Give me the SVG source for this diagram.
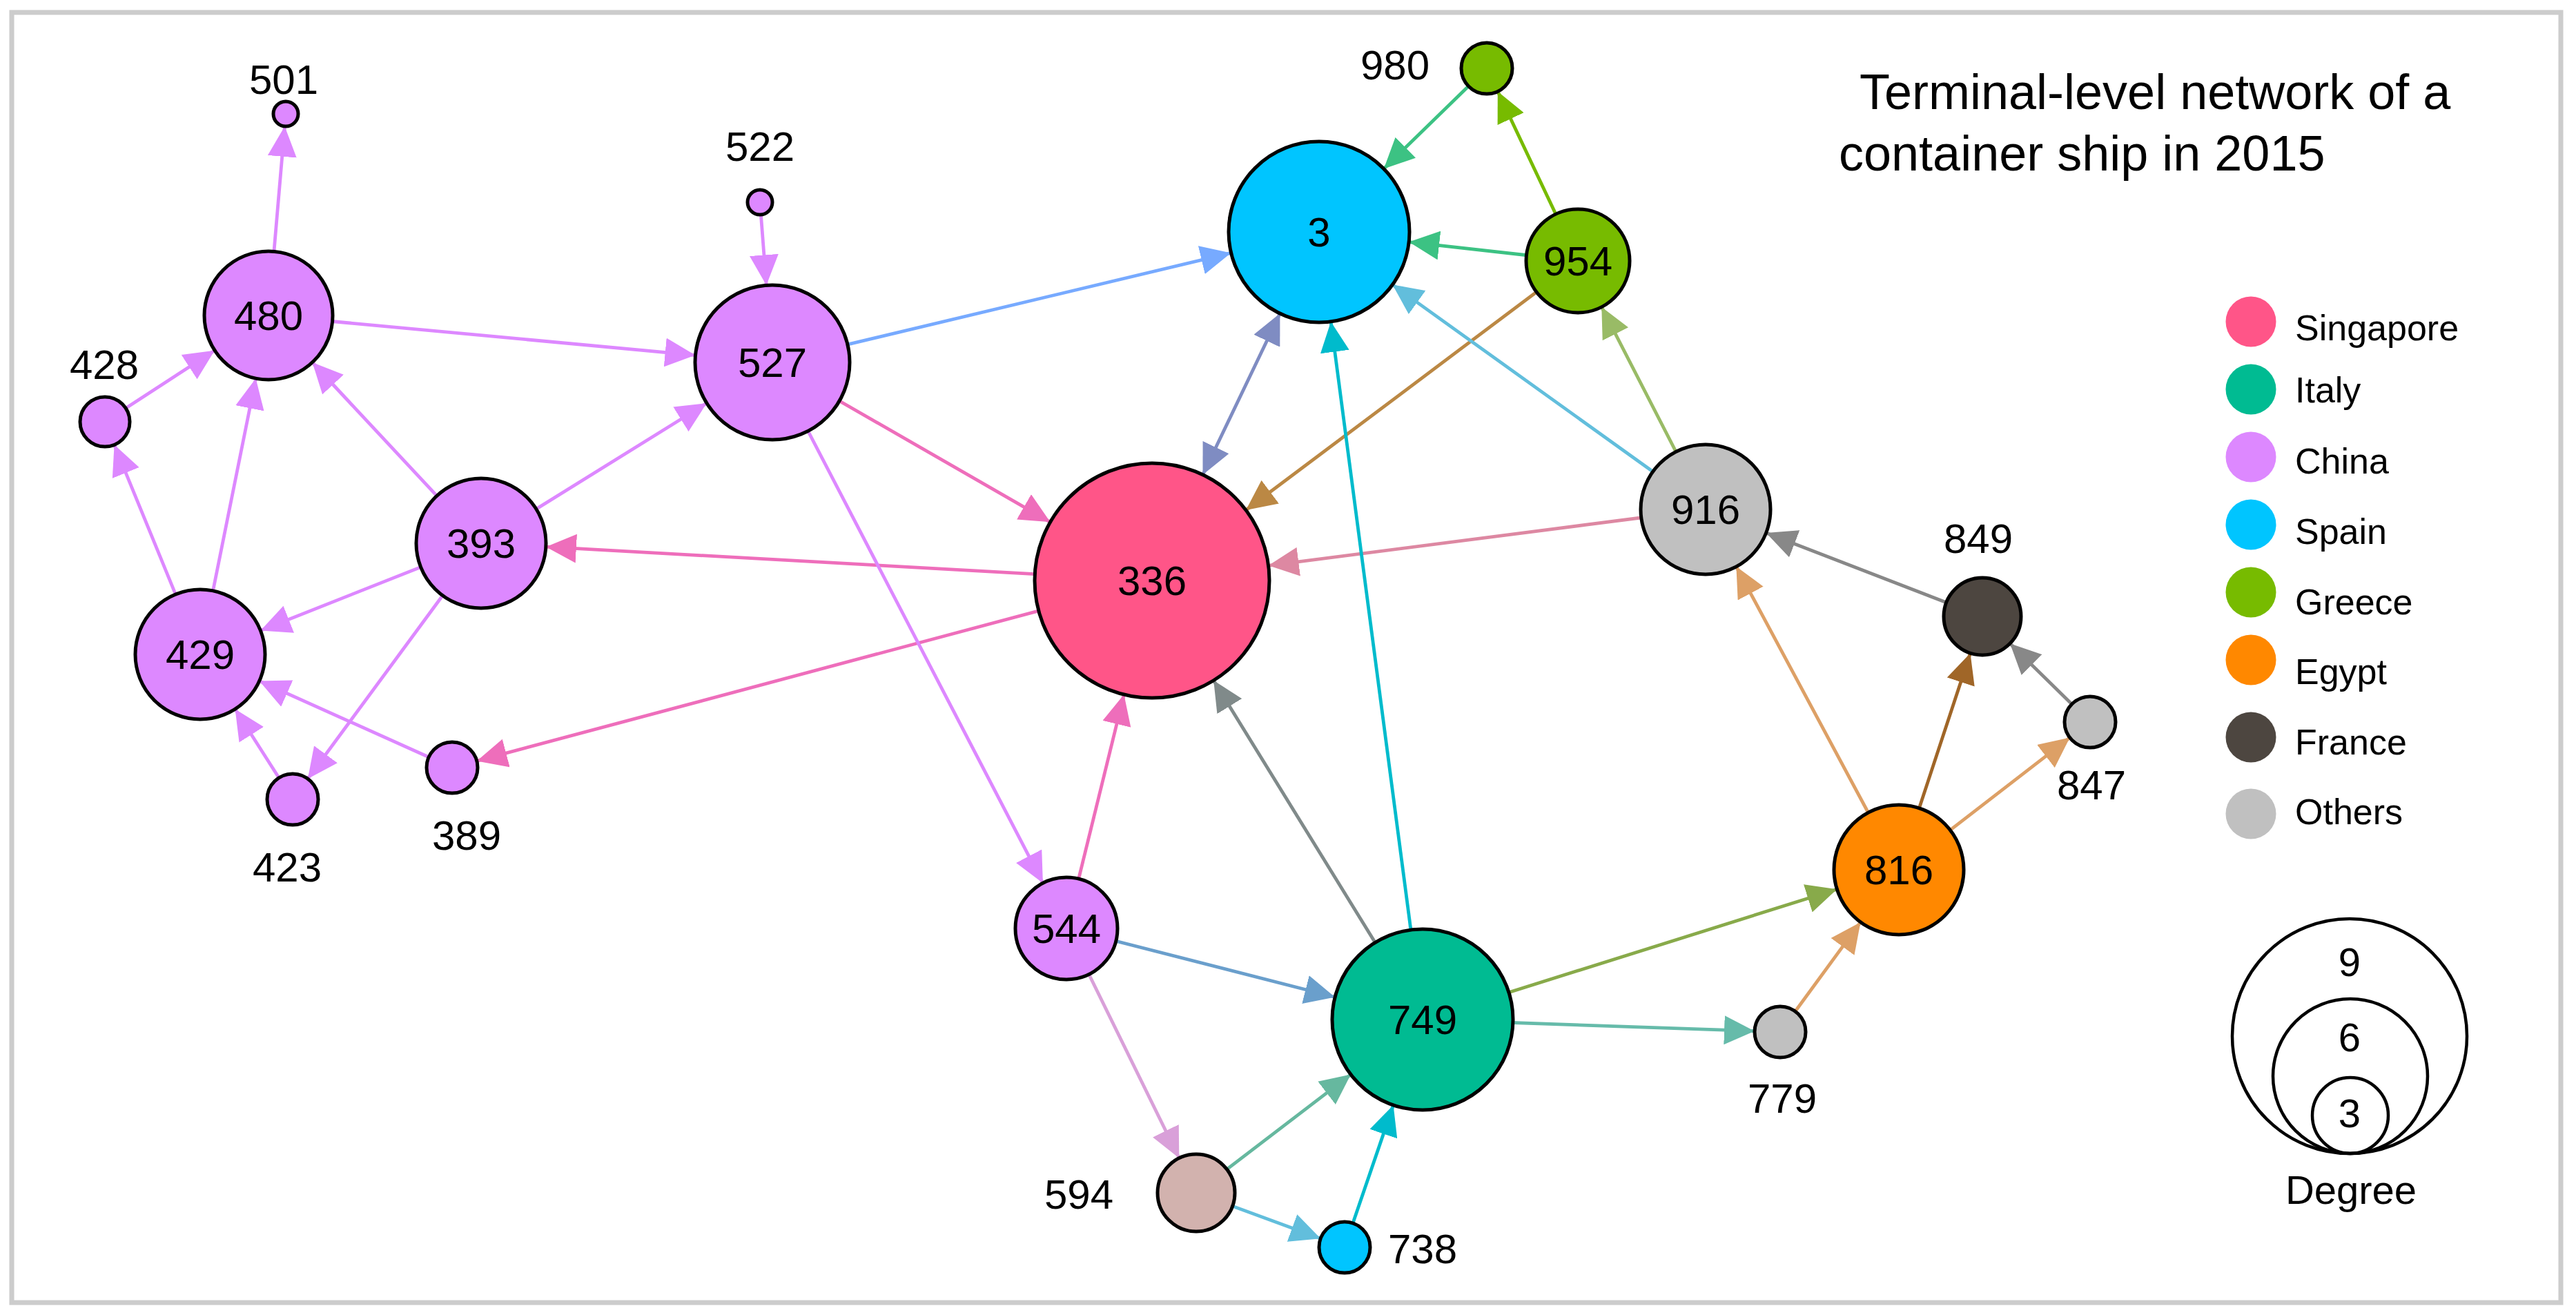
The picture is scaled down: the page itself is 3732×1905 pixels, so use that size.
<svg xmlns="http://www.w3.org/2000/svg" width="3732" height="1905" viewBox="0 0 3732 1905">
<style>
text{font-family:"Liberation Sans",Arial,Helvetica,sans-serif;fill:#000}
.lbl{font-size:60px;text-anchor:middle}
.leg{font-size:52px}
.title{font-size:72px}
.deg{font-size:58px;text-anchor:middle}
.n{stroke:#000;stroke-width:5}
.ring{fill:none;stroke:#000;stroke-width:4.5}
.e{fill:none;stroke-width:4.8}
.cn{fill:#DD88FF}.sg{fill:#FF5588}.it{fill:#00BB92}.sp{fill:#00C5FF}.gr{fill:#77BB00}.eg{fill:#FF8800}.fr{fill:#4D4640}.ot{fill:#C0C0C0}
</style>
<defs>
<marker id="m1" viewBox="0 0 44 42" markerWidth="44" markerHeight="42" refX="44" refY="21" orient="auto" markerUnits="userSpaceOnUse"><path d="M0,0L44,21L0,42z" fill="#EE6EBB"/></marker>
<marker id="m2" viewBox="0 0 44 42" markerWidth="44" markerHeight="42" refX="44" refY="21" orient="auto" markerUnits="userSpaceOnUse"><path d="M0,0L44,21L0,42z" fill="#DD88FF"/></marker>
<marker id="m3" viewBox="0 0 44 42" markerWidth="44" markerHeight="42" refX="44" refY="21" orient="auto" markerUnits="userSpaceOnUse"><path d="M0,0L44,21L0,42z" fill="#77AAFF"/></marker>
<marker id="m4" viewBox="0 0 44 42" markerWidth="44" markerHeight="42" refX="44" refY="21" orient="auto-start-reverse" markerUnits="userSpaceOnUse"><path d="M0,0L44,21L0,42z" fill="#7F8CC2"/></marker>
<marker id="m5" viewBox="0 0 44 42" markerWidth="44" markerHeight="42" refX="44" refY="21" orient="auto" markerUnits="userSpaceOnUse"><path d="M0,0L44,21L0,42z" fill="#3CC283"/></marker>
<marker id="m6" viewBox="0 0 44 42" markerWidth="44" markerHeight="42" refX="44" refY="21" orient="auto" markerUnits="userSpaceOnUse"><path d="M0,0L44,21L0,42z" fill="#77BB00"/></marker>
<marker id="m7" viewBox="0 0 44 42" markerWidth="44" markerHeight="42" refX="44" refY="21" orient="auto" markerUnits="userSpaceOnUse"><path d="M0,0L44,21L0,42z" fill="#BB8844"/></marker>
<marker id="m8" viewBox="0 0 44 42" markerWidth="44" markerHeight="42" refX="44" refY="21" orient="auto" markerUnits="userSpaceOnUse"><path d="M0,0L44,21L0,42z" fill="#62BEDC"/></marker>
<marker id="m9" viewBox="0 0 44 42" markerWidth="44" markerHeight="42" refX="44" refY="21" orient="auto" markerUnits="userSpaceOnUse"><path d="M0,0L44,21L0,42z" fill="#99BB66"/></marker>
<marker id="m10" viewBox="0 0 44 42" markerWidth="44" markerHeight="42" refX="44" refY="21" orient="auto" markerUnits="userSpaceOnUse"><path d="M0,0L44,21L0,42z" fill="#DD88A2"/></marker>
<marker id="m11" viewBox="0 0 44 42" markerWidth="44" markerHeight="42" refX="44" refY="21" orient="auto" markerUnits="userSpaceOnUse"><path d="M0,0L44,21L0,42z" fill="#888888"/></marker>
<marker id="m12" viewBox="0 0 44 42" markerWidth="44" markerHeight="42" refX="44" refY="21" orient="auto" markerUnits="userSpaceOnUse"><path d="M0,0L44,21L0,42z" fill="#DDA066"/></marker>
<marker id="m13" viewBox="0 0 44 42" markerWidth="44" markerHeight="42" refX="44" refY="21" orient="auto" markerUnits="userSpaceOnUse"><path d="M0,0L44,21L0,42z" fill="#A06628"/></marker>
<marker id="m14" viewBox="0 0 44 42" markerWidth="44" markerHeight="42" refX="44" refY="21" orient="auto" markerUnits="userSpaceOnUse"><path d="M0,0L44,21L0,42z" fill="#88AA4A"/></marker>
<marker id="m15" viewBox="0 0 44 42" markerWidth="44" markerHeight="42" refX="44" refY="21" orient="auto" markerUnits="userSpaceOnUse"><path d="M0,0L44,21L0,42z" fill="#66BBAA"/></marker>
<marker id="m16" viewBox="0 0 44 42" markerWidth="44" markerHeight="42" refX="44" refY="21" orient="auto" markerUnits="userSpaceOnUse"><path d="M0,0L44,21L0,42z" fill="#808A8A"/></marker>
<marker id="m17" viewBox="0 0 44 42" markerWidth="44" markerHeight="42" refX="44" refY="21" orient="auto" markerUnits="userSpaceOnUse"><path d="M0,0L44,21L0,42z" fill="#00BBCC"/></marker>
<marker id="m18" viewBox="0 0 44 42" markerWidth="44" markerHeight="42" refX="44" refY="21" orient="auto" markerUnits="userSpaceOnUse"><path d="M0,0L44,21L0,42z" fill="#6A9FCC"/></marker>
<marker id="m19" viewBox="0 0 44 42" markerWidth="44" markerHeight="42" refX="44" refY="21" orient="auto" markerUnits="userSpaceOnUse"><path d="M0,0L44,21L0,42z" fill="#D9A0D9"/></marker>
<marker id="m20" viewBox="0 0 44 42" markerWidth="44" markerHeight="42" refX="44" refY="21" orient="auto" markerUnits="userSpaceOnUse"><path d="M0,0L44,21L0,42z" fill="#66B89F"/></marker>
</defs>
<rect x="0" y="0" width="3732" height="1905" fill="#fff"/>
<rect x="17" y="18" width="3693" height="1869" fill="#fff" stroke="#cccccc" stroke-width="7"/>
<g id="connectors">
<line class="e" stroke="#DD88FF" marker-end="url(#m2)" x1="389" y1="457" x2="412.5" y2="182.9"/>
<line class="e" stroke="#DD88FF" marker-end="url(#m2)" x1="152" y1="611" x2="311" y2="507.7"/>
<line class="e" stroke="#DD88FF" marker-end="url(#m2)" x1="290" y1="948" x2="165.6" y2="644.3"/>
<line class="e" stroke="#DD88FF" marker-end="url(#m2)" x1="290" y1="948" x2="370.6" y2="548.2"/>
<line class="e" stroke="#DD88FF" marker-end="url(#m2)" x1="697" y1="787" x2="452.5" y2="525"/>
<line class="e" stroke="#DD88FF" marker-end="url(#m2)" x1="389" y1="457" x2="1007.5" y2="514.6"/>
<line class="e" stroke="#DD88FF" marker-end="url(#m2)" x1="1101" y1="293" x2="1110.3" y2="413.3"/>
<line class="e" stroke="#DD88FF" marker-end="url(#m2)" x1="697" y1="787" x2="1023.8" y2="584.1"/>
<line class="e" stroke="#DD88FF" marker-end="url(#m2)" x1="697" y1="787" x2="377.4" y2="913.4"/>
<line class="e" stroke="#DD88FF" marker-end="url(#m2)" x1="697" y1="787" x2="445.9" y2="1128.2"/>
<line class="e" stroke="#DD88FF" marker-end="url(#m2)" x1="424" y1="1158" x2="340.6" y2="1027.2"/>
<line class="e" stroke="#DD88FF" marker-end="url(#m2)" x1="655" y1="1112" x2="375.7" y2="986.5"/>
<line class="e" stroke="#EE6EBB" marker-end="url(#m1)" x1="1669" y1="841" x2="790.9" y2="792.2"/>
<line class="e" stroke="#EE6EBB" marker-end="url(#m1)" x1="1669" y1="841" x2="690.7" y2="1102.4"/>
<line class="e" stroke="#EE6EBB" marker-end="url(#m1)" x1="1119" y1="525" x2="1521.6" y2="756.3"/>
<line class="e" stroke="#77AAFF" marker-end="url(#m3)" x1="1119" y1="525" x2="1783.6" y2="366.4"/>
<line class="e" stroke="#DD88FF" marker-end="url(#m2)" x1="1119" y1="525" x2="1510.9" y2="1279.3"/>
<line class="e" stroke="#7F8CC2" marker-start="url(#m4)" marker-end="url(#m4)" x1="1854.4" y1="454.1" x2="1742.5" y2="687.7"/>
<line class="e" stroke="#3CC283" marker-end="url(#m5)" x1="2154" y1="99" x2="2004.8" y2="244.5"/>
<line class="e" stroke="#77BB00" marker-end="url(#m6)" x1="2286" y1="378" x2="2169.8" y2="132.4"/>
<line class="e" stroke="#3CC283" marker-end="url(#m5)" x1="2286" y1="378" x2="2041.2" y2="350.6"/>
<line class="e" stroke="#BB8844" marker-end="url(#m7)" x1="2286" y1="378" x2="1805" y2="739"/>
<line class="e" stroke="#62BEDC" marker-end="url(#m8)" x1="2471" y1="738" x2="2017.4" y2="412.4"/>
<line class="e" stroke="#99BB66" marker-end="url(#m9)" x1="2471" y1="738" x2="2320.3" y2="444.7"/>
<line class="e" stroke="#DD88A2" marker-end="url(#m10)" x1="2471" y1="738" x2="1837.6" y2="819.3"/>
<line class="e" stroke="#888888" marker-end="url(#m11)" x1="2872" y1="893" x2="2558.7" y2="771.9"/>
<line class="e" stroke="#888888" marker-end="url(#m11)" x1="3028" y1="1046" x2="2912" y2="932.2"/>
<line class="e" stroke="#DDA066" marker-end="url(#m12)" x1="2751" y1="1260" x2="2515.4" y2="820.8"/>
<line class="e" stroke="#A06628" marker-end="url(#m13)" x1="2751" y1="1260" x2="2854.5" y2="946.2"/>
<line class="e" stroke="#DDA066" marker-end="url(#m12)" x1="2751" y1="1260" x2="2998.7" y2="1068.6"/>
<line class="e" stroke="#DDA066" marker-end="url(#m12)" x1="2579" y1="1495" x2="2695.5" y2="1335.9"/>
<line class="e" stroke="#88AA4A" marker-end="url(#m14)" x1="2061" y1="1477" x2="2661.3" y2="1288.2"/>
<line class="e" stroke="#66BBAA" marker-end="url(#m15)" x1="2061" y1="1477" x2="2542" y2="1493.7"/>
<line class="e" stroke="#808A8A" marker-end="url(#m16)" x1="2061" y1="1477" x2="1758.2" y2="985.7"/>
<line class="e" stroke="#00BBCC" marker-end="url(#m17)" x1="2061" y1="1477" x2="1928.1" y2="465.9"/>
<line class="e" stroke="#EE6EBB" marker-end="url(#m1)" x1="1545" y1="1345" x2="1628.4" y2="1006.1"/>
<line class="e" stroke="#6A9FCC" marker-end="url(#m18)" x1="1545" y1="1345" x2="1934.1" y2="1444.5"/>
<line class="e" stroke="#D9A0D9" marker-end="url(#m19)" x1="1545" y1="1345" x2="1708.3" y2="1677.7"/>
<line class="e" stroke="#66B89F" marker-end="url(#m20)" x1="1733" y1="1728" x2="1957" y2="1556.6"/>
<line class="e" stroke="#62BEDC" marker-end="url(#m8)" x1="1733" y1="1728" x2="1913.3" y2="1794.2"/>
<line class="e" stroke="#00BBCC" marker-end="url(#m17)" x1="1948" y1="1807" x2="2018.6" y2="1600.9"/>
</g>
<g id="n501"><circle class="n cn" cx="414" cy="165" r="18"/><text class="lbl" x="411" y="136">501</text></g>
<g id="n480"><circle class="n cn" cx="389" cy="457" r="93"/><text class="lbl" x="389" y="478">480</text></g>
<g id="n428"><circle class="n cn" cx="152" cy="611" r="36"/><text class="lbl" x="151" y="549">428</text></g>
<g id="n522"><circle class="n cn" cx="1101" cy="293" r="18"/><text class="lbl" x="1101" y="233">522</text></g>
<g id="n527"><circle class="n cn" cx="1119" cy="525" r="112"/><text class="lbl" x="1119" y="546">527</text></g>
<g id="n393"><circle class="n cn" cx="697" cy="787" r="94"/><text class="lbl" x="697" y="808">393</text></g>
<g id="n429"><circle class="n cn" cx="290" cy="948" r="94"/><text class="lbl" x="290" y="969">429</text></g>
<g id="n423"><circle class="n cn" cx="424" cy="1158" r="37"/><text class="lbl" x="416" y="1277">423</text></g>
<g id="n389"><circle class="n cn" cx="655" cy="1112" r="37"/><text class="lbl" x="676" y="1231">389</text></g>
<g id="n980"><circle class="n gr" cx="2154" cy="99" r="37"/><text class="lbl" x="2021" y="115">980</text></g>
<g id="n3"><circle class="n sp" cx="1911" cy="336" r="131"/><text class="lbl" x="1911" y="357">3</text></g>
<g id="n954"><circle class="n gr" cx="2286" cy="378" r="75"/><text class="lbl" x="2286" y="399">954</text></g>
<g id="n336"><circle class="n sg" cx="1669" cy="841" r="170"/><text class="lbl" x="1669" y="862">336</text></g>
<g id="n916"><circle class="n ot" cx="2471" cy="738" r="94"/><text class="lbl" x="2471" y="759">916</text></g>
<g id="n849"><circle class="n fr" cx="2872" cy="893" r="56"/><text class="lbl" x="2866" y="801">849</text></g>
<g id="n847"><circle class="n ot" cx="3028" cy="1046" r="37"/><text class="lbl" x="3030" y="1158">847</text></g>
<g id="n816"><circle class="n eg" cx="2751" cy="1260" r="94"/><text class="lbl" x="2751" y="1281">816</text></g>
<g id="n779"><circle class="n ot" cx="2579" cy="1495" r="37"/><text class="lbl" x="2582" y="1612">779</text></g>
<g id="n749"><circle class="n it" cx="2061" cy="1477" r="131"/><text class="lbl" x="2061" y="1498">749</text></g>
<g id="n544"><circle class="n cn" cx="1545" cy="1345" r="74"/><text class="lbl" x="1545" y="1366">544</text></g>
<g id="n594"><circle class="n" fill="#D2B2AE" cx="1733" cy="1728" r="56"/><text class="lbl" x="1563" y="1751">594</text></g>
<g id="n738"><circle class="n sp" cx="1948" cy="1807" r="37"/><text class="lbl" x="2061" y="1830">738</text></g>
<g id="title">
<text class="title" x="2694" y="158">Terminal-level network of a</text>
<text class="title" x="2664" y="247">container ship in 2015</text>
</g>
<g id="legend">
<circle class="sg" cx="3261" cy="466" r="36.5"/><text class="leg" x="3325" y="493">Singapore</text>
<circle class="it" cx="3261" cy="564" r="36.5"/><text class="leg" x="3325" y="583">Italy</text>
<circle class="cn" cx="3261" cy="662" r="36.5"/><text class="leg" x="3325" y="686">China</text>
<circle class="sp" cx="3261" cy="760" r="36.5"/><text class="leg" x="3325" y="788">Spain</text>
<circle class="gr" cx="3261" cy="858" r="36.5"/><text class="leg" x="3325" y="890">Greece</text>
<circle class="eg" cx="3261" cy="956" r="36.5"/><text class="leg" x="3325" y="991">Egypt</text>
<circle class="fr" cx="3261" cy="1068" r="36.5"/><text class="leg" x="3325" y="1093">France</text>
<circle class="ot" cx="3261" cy="1179" r="36.5"/><text class="leg" x="3325" y="1194">Others</text>
</g>
<g id="degree-legend">
<circle class="ring" cx="3404" cy="1501" r="170"/>
<circle class="ring" cx="3405" cy="1559" r="112"/>
<circle class="ring" cx="3405" cy="1616" r="55"/>
<text class="deg" x="3404" y="1414">9</text>
<text class="deg" x="3404" y="1523">6</text>
<text class="deg" x="3404" y="1633">3</text>
<text class="deg" x="3406" y="1744">Degree</text>
</g>
</svg>
